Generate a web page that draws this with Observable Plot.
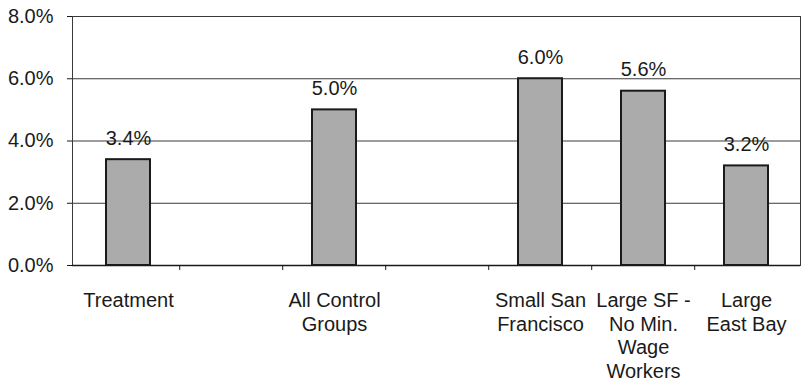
<!DOCTYPE html>
<html>
<head>
<meta charset="utf-8">
<script src="https://cdn.jsdelivr.net/npm/d3@7"></script>
<script src="https://cdn.jsdelivr.net/npm/@observablehq/plot@0.6"></script>
<style>
  html, body { margin: 0; padding: 0; background: #fff; }
  #chart svg { display: block; }
</style>
</head>
<body>
<div id="chart"></div>
<script>
// Slots along the x axis (two empty slots act as gaps)
const slots = ["Treatment", "gap1", "All Control Groups", "gap2", "Small San Francisco", "Large SF - No Min. Wage Workers", "Large East Bay"];
const categories = ["Treatment", "All Control Groups", "Small San Francisco", "Large SF - No Min. Wage Workers", "Large East Bay"];
const categoryLabels = ["Treatment", "All Control\nGroups", "Small San\nFrancisco", "Large SF -\nNo Min.\nWage\nWorkers", "Large\nEast Bay"];
const values = [3.4, 5.0, 6.0, 5.6, 3.2];
const yTicks = [0, 2, 4, 6, 8];

const data = categories.map((c, i) => ({category: c, label: categoryLabels[i], value: values[i]}));

const font = "'Liberation Sans', Arial, Helvetica, sans-serif";
const ink = "#1a1a1a";
const W = 801, marginLeft = 72, marginRight = 1, insetLeft = 3;
const halfStep = (W - marginLeft - marginRight - insetLeft) / slots.length / 2;

const chart = Plot.plot({
  width: W,
  height: 383,
  marginLeft,
  marginRight,
  marginTop: 16,
  marginBottom: 118,
  style: {fontFamily: font, fontSize: "20px", color: ink, background: "#fff"},
  x: {domain: slots, paddingInner: 0.57, paddingOuter: 0.285, insetLeft, axis: null},
  y: {domain: [0, 8], axis: null},
  marks: [
    Plot.ruleY(yTicks, {stroke: "#3a3a3a", strokeWidth: 1}),
    Plot.frame({stroke: "#3a3a3a", strokeWidth: 1}),
    Plot.ruleY([0], {stroke: ink, strokeWidth: 1.3}),
    Plot.axisY({
      ticks: yTicks,
      tickFormat: d => d.toFixed(1) + "%",
      tickSize: 5,
      tickPadding: 14,
      fontSize: 20,
      stroke: ink,
      fill: ink,
      label: null
    }),
    Plot.axisX({
      ticks: slots.slice(1),
      tickFormat: () => "",
      tickSize: 5,
      dx: -halfStep,
      stroke: ink,
      label: null
    }),
    Plot.barY(data, {x: "category", y: "value", fill: "#ababab", stroke: ink, strokeWidth: 2}),
    Plot.text(data, {
      x: "category", y: "value",
      text: d => d.value.toFixed(1) + "%",
      lineAnchor: "bottom", dy: -15,
      fontSize: 20, fill: ink
    }),
    Plot.text(data, {
      x: "category", y: () => 0,
      text: "label",
      lineAnchor: "top", dy: 25, lineHeight: 1.18,
      fontSize: 20, fill: ink
    })
  ]
});

document.getElementById("chart").appendChild(chart);
</script>
</body>
</html>
